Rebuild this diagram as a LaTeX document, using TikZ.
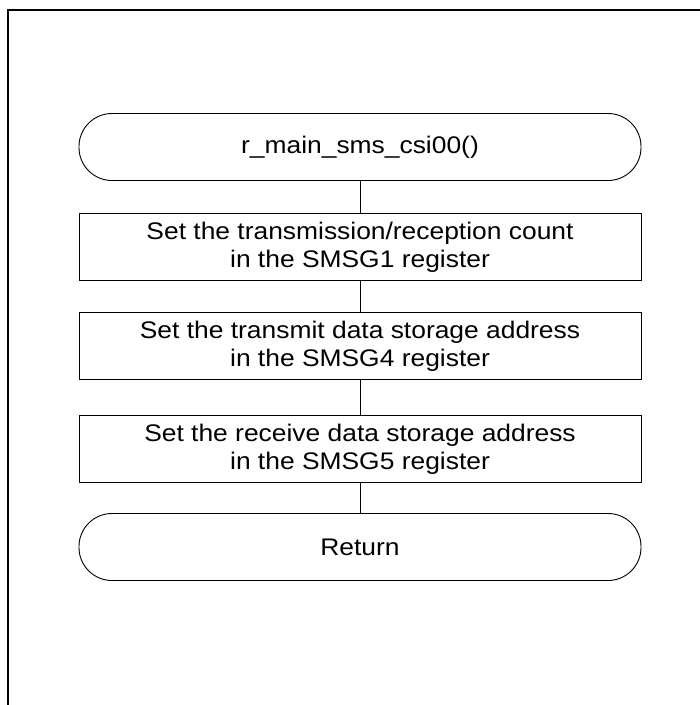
\documentclass[tikz,border=0pt]{standalone}
\usepackage{fontspec}
\setmainfont{Liberation Sans}[FakeStretch=1.1]
\tikzset{
  term/.style={draw, line width=0.9pt, rounded corners=33pt, minimum width=562pt,
    minimum height=67pt, inner sep=0pt, align=center},
  procbox/.style={draw, line width=0.9pt, minimum width=562pt, minimum height=67pt,
    inner sep=0pt, align=center},
}
\begin{document}
\begin{tikzpicture}[x=1pt, y=-1pt, font=\fontsize{24}{28}\selectfont]
  \useasboundingbox (0,0) rectangle (700,705);
  % frame
  \draw [line width=2pt] (8,705) -- (8,10) -- (700,10);
  \node [term] (start) at (360,147) {r\_main\_sms\_csi00()};
  \node [procbox] (cnt) at (360,247) {Set the transmission/reception count\\in the SMSG1 register};
  \node [procbox] (txadr) at (360,346) {Set the transmit data storage address\\in the SMSG4 register};
  \node [procbox] (rxadr) at (360,449) {Set the receive data storage address\\in the SMSG5 register};
  \node [term] (ret) at (360,547) {Return};
  \draw [line width=0.9pt] (start) -- (cnt);
  \draw [line width=0.9pt] (cnt) -- (txadr);
  \draw [line width=0.9pt] (txadr) -- (rxadr);
  \draw [line width=0.9pt] (rxadr) -- (ret);
\end{tikzpicture}
\end{document}
